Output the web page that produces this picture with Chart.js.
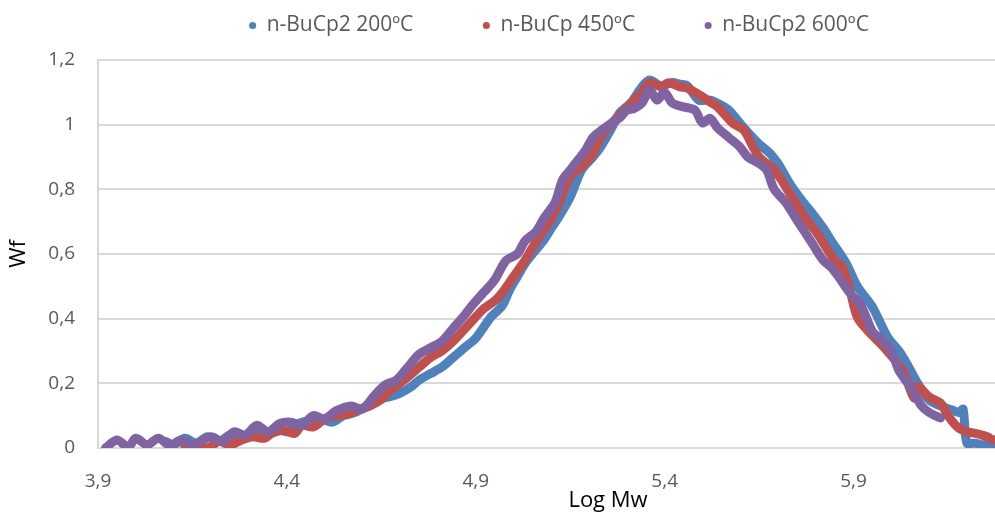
<!DOCTYPE html>
<html>
<head>
<meta charset="utf-8">
<script src="https://cdn.jsdelivr.net/npm/chart.js@4/dist/chart.umd.min.js"></script>
<style>
  html, body { margin: 0; padding: 0; background: #fff; overflow: hidden; }
  #wrap { position: absolute; left: 0; top: 0; width: 1120px; height: 530px; }
</style>
</head>
<body>
<div id="wrap"><canvas id="chart" width="1120" height="530"></canvas></div>
<script>
// series names
const names = ['n-BuCp2 200ºC', 'n-BuCp 450ºC', 'n-BuCp2 600ºC'];

// n-BuCp2 200ºC (blue)
const logMw200 = [4.08,4.10,4.13,4.16,4.19,4.22,4.25,4.28,4.31,4.34,4.37,4.40,4.43,4.46,4.49,4.52,4.55,4.58,4.61,4.64,
  4.67,4.70,4.73,4.75,4.78,4.81,4.84,4.87,4.90,4.94,4.97,4.99,5.01,5.03,5.05,5.08,5.10,5.12,5.15,5.18,
  5.21,5.23,5.26,5.28,5.31,5.34,5.36,5.39,5.42,5.44,5.46,5.49,5.52,5.55,5.57,5.61,5.65,5.68,5.70,5.73,
  5.76,5.79,5.82,5.84,5.88,5.91,5.95,5.99,6.02,6.04,6.07,6.10,6.13,6.16,6.18,6.19,6.20,6.22,6.24,6.27];
const wf200 = [0.02,0.01,0.03,0.015,0.035,0.02,0.04,0.03,0.05,0.04,0.06,0.05,0.075,0.085,0.09,0.08,0.10,0.11,0.13,0.15,
  0.158,0.17,0.19,0.21,0.23,0.25,0.28,0.31,0.34,0.405,0.44,0.49,0.53,0.57,0.60,0.643,0.68,0.715,0.776,0.86,
  0.90,0.93,0.99,1.035,1.067,1.117,1.138,1.12,1.13,1.125,1.12,1.076,1.076,1.06,1.045,0.99,0.94,0.91,0.88,0.82,
  0.77,0.727,0.68,0.643,0.572,0.50,0.436,0.343,0.30,0.263,0.20,0.148,0.13,0.118,0.11,0.12,0.015,0.015,0.01,0.005];

// n-BuCp 450ºC (red)
const logMw450 = [4.13,4.16,4.19,4.22,4.25,4.28,4.31,4.34,4.36,4.39,4.42,4.44,4.47,4.50,4.53,4.56,4.59,4.62,4.65,4.67,
  4.71,4.75,4.78,4.81,4.84,4.88,4.92,4.95,4.97,5.00,5.03,5.05,5.08,5.10,5.12,5.15,5.18,5.21,5.23,5.26,
  5.29,5.32,5.34,5.36,5.39,5.41,5.44,5.46,5.50,5.52,5.54,5.58,5.61,5.63,5.65,5.69,5.73,5.77,5.80,5.82,
  5.85,5.87,5.89,5.91,5.94,5.98,6.03,6.06,6.07,6.10,6.13,6.15,6.175,6.20,6.22,6.24,6.255,6.27,6.29];
const wf450 = [0.005,0.01,0.0,0.02,0.01,0.025,0.035,0.03,0.045,0.055,0.045,0.07,0.065,0.09,0.10,0.105,0.118,0.13,0.15,0.175,
  0.21,0.25,0.28,0.30,0.33,0.38,0.43,0.455,0.48,0.53,0.58,0.62,0.674,0.71,0.757,0.84,0.87,0.91,0.96,1.005,
  1.04,1.076,1.10,1.13,1.117,1.13,1.117,1.113,1.086,1.07,1.055,1.005,0.983,0.94,0.90,0.86,0.79,0.715,0.67,0.634,
  0.58,0.56,0.49,0.405,0.36,0.312,0.24,0.155,0.19,0.158,0.139,0.10,0.065,0.05,0.046,0.04,0.034,0.025,0.03];

// n-BuCp2 600ºC (purple)
const logMw600 = [3.92,3.95,3.98,4.00,4.03,4.06,4.09,4.12,4.15,4.17,4.20,4.23,4.26,4.29,4.32,4.35,4.38,4.41,4.44,4.47,
  4.50,4.53,4.57,4.60,4.63,4.66,4.69,4.72,4.75,4.78,4.81,4.84,4.87,4.89,4.92,4.95,4.98,5.01,5.03,5.06,
  5.08,5.11,5.13,5.15,5.17,5.19,5.21,5.23,5.26,5.28,5.30,5.32,5.34,5.36,5.38,5.40,5.42,5.45,5.48,5.50,
  5.52,5.54,5.57,5.60,5.62,5.65,5.67,5.69,5.72,5.75,5.77,5.79,5.82,5.84,5.86,5.89,5.92,5.95,5.97,6.00,
  6.02,6.05,6.08,6.10,6.13];
const wf600 = [0.00,0.025,0.003,0.03,0.01,0.03,0.008,0.025,0.01,0.02,0.035,0.02,0.05,0.04,0.07,0.05,0.075,0.08,0.07,0.10,
  0.09,0.115,0.13,0.12,0.16,0.195,0.21,0.25,0.29,0.31,0.33,0.37,0.41,0.44,0.48,0.52,0.58,0.60,0.64,0.67,
  0.71,0.76,0.83,0.86,0.89,0.92,0.96,0.98,1.005,1.02,1.045,1.05,1.067,1.107,1.076,1.10,1.067,1.055,1.045,1.005,
  1.02,0.99,0.96,0.93,0.90,0.88,0.86,0.80,0.76,0.705,0.67,0.634,0.58,0.56,0.53,0.48,0.44,0.36,0.34,0.30,
  0.24,0.19,0.13,0.11,0.093];

// axis ticks
const xTicks = [3.9, 4.4, 4.9, 5.4, 5.9, 6.4];
const yTicks = [0, 0.2, 0.4, 0.6, 0.8, 1, 1.2];

const pairs = (xs, ys) => xs.map((x, i) => ({x: x, y: ys[i]}));
const comma = v => String(Number(v.toFixed(1))).replace('.', ',');

const lineStyle = {
  showLine: true, borderWidth: 9, pointRadius: 0, tension: 0.3,
  borderCapStyle: 'round', borderJoinStyle: 'round'
};

const fixLegend = {
  id: 'fixLegend',
  beforeInit(chart) {
    const fit = chart.legend.fit;
    chart.legend.fit = function () { fit.call(this); this.height = 60; };
  }
};

new Chart(document.getElementById('chart'), {
  type: 'scatter',
  data: {
    datasets: [
      Object.assign({label: names[0], data: pairs(logMw200, wf200), borderColor: '#4F81BD', backgroundColor: '#4F81BD', order: 2}, lineStyle),
      Object.assign({label: names[1], data: pairs(logMw450, wf450), borderColor: '#C0504D', backgroundColor: '#C0504D', order: 1}, lineStyle),
      Object.assign({label: names[2], data: pairs(logMw600, wf600), borderColor: '#8064A2', backgroundColor: '#8064A2', order: 0}, lineStyle)
    ]
  },
  options: {
    responsive: false,
    animation: false,
    layout: { padding: { left: 0, right: 2, top: 0, bottom: 0 } },
    plugins: {
      tooltip: { enabled: false },
      legend: {
        position: 'top',
        labels: {
          usePointStyle: true, pointStyle: 'circle', boxWidth: 7, boxHeight: 5,
          padding: 15, color: '#595959',
          font: { family: 'Open Sans', size: 21 },
          generateLabels(chart) {
            const items = Chart.defaults.plugins.legend.labels.generateLabels(chart);
            items.sort((a, b) => a.datasetIndex - b.datasetIndex);
            items.forEach((it, i) => {
              it.pointStyle = 'circle';
              it.lineWidth = 0;
              if (i < items.length - 1) it.text = it.text + '          ';
            });
            return items;
          }
        }
      }
    },
    scales: {
      x: {
        type: 'linear', min: 3.9, max: 6.6,
        afterBuildTicks(scale) { scale.ticks = xTicks.map(v => ({value: v})); },
        afterFit(scale) { scale.height = 82; },
        grid: { display: false, drawTicks: false },
        border: { display: true, color: '#d9d9d9', width: 2 },
        ticks: { padding: 22, color: '#595959', font: { family: 'Open Sans', size: 19 }, callback: v => comma(v), maxRotation: 0 },
        title: { display: true, text: 'Log Mw', color: '#000', font: { family: 'Open Sans', size: 22 }, padding: { top: 0, bottom: 16 } }
      },
      y: {
        min: 0, max: 1.2,
        afterBuildTicks(scale) { scale.ticks = yTicks.map(v => ({value: v})); },
        afterFit(scale) { scale.width = 98; },
        grid: { color: '#d9d9d9', lineWidth: 2, drawTicks: false },
        border: { display: true, color: '#d9d9d9', width: 2 },
        ticks: { padding: 23, color: '#595959', font: { family: 'Open Sans', size: 19 }, callback: v => comma(v) },
        title: { display: true, text: 'Wf', color: '#000', font: { family: 'Open Sans', size: 22 }, padding: { top: 6, bottom: 0 } }
      }
    }
  },
  plugins: [fixLegend]
});
</script>
</body>
</html>
